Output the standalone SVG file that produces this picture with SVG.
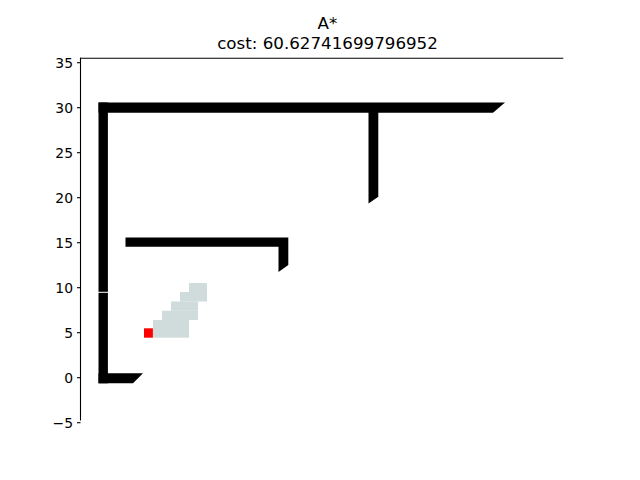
<svg xmlns="http://www.w3.org/2000/svg" width="640" height="480" viewBox="0 0 640 480">
<style>
.wall{fill:#000}
.cell{fill:#d0dcdc}
.tick{stroke:#000;stroke-width:1.1}
.lbl{font-family:"DejaVu Sans",sans-serif;font-size:13.9px;fill:#000;text-anchor:end}
.title{font-family:"DejaVu Sans",sans-serif;font-size:16.7px;fill:#000;text-anchor:middle}
</style>
<rect width="640" height="480" fill="#fff"/>
<g id="title">
<text class="title" x="327.5" y="29">A*</text>
<text class="title" x="327.5" y="49.3">cost: 60.62741699796952</text>
</g>
<g id="axes">
<line class="tick" x1="80" y1="58.3" x2="563.3" y2="58.3"/>
<line class="tick" x1="80.5" y1="57.8" x2="80.5" y2="420.5"/>
<g id="yticks">
<line class="tick" x1="77" y1="62.7" x2="80.5" y2="62.7"/>
<line class="tick" x1="77" y1="107.7" x2="80.5" y2="107.7"/>
<line class="tick" x1="77" y1="152.7" x2="80.5" y2="152.7"/>
<line class="tick" x1="77" y1="197.7" x2="80.5" y2="197.7"/>
<line class="tick" x1="77" y1="242.7" x2="80.5" y2="242.7"/>
<line class="tick" x1="77" y1="287.7" x2="80.5" y2="287.7"/>
<line class="tick" x1="77" y1="332.7" x2="80.5" y2="332.7"/>
<line class="tick" x1="77" y1="377.7" x2="80.5" y2="377.7"/>
<line class="tick" x1="77" y1="422.7" x2="80.5" y2="422.7"/>
<text class="lbl" x="73" y="68">35</text>
<text class="lbl" x="73" y="113">30</text>
<text class="lbl" x="73" y="158">25</text>
<text class="lbl" x="73" y="203">20</text>
<text class="lbl" x="73" y="248">15</text>
<text class="lbl" x="73" y="293">10</text>
<text class="lbl" x="73" y="338">5</text>
<text class="lbl" x="73" y="383">0</text>
<text class="lbl" x="73" y="428">−5</text>
</g>
</g>
<g id="walls">
<polygon class="wall" points="98.5,102.5 505,102.5 493,112.7 98.5,112.7"/>
<polygon class="wall" points="368.5,112 378.3,112 378.3,196.7 368.5,203.5"/>
<rect class="wall" x="98.5" y="102.5" width="9.4" height="189.3"/>
<rect class="wall" x="98.5" y="292.8" width="9.4" height="90.5"/>
<polygon class="wall" points="98.5,373.3 143,373.3 133,383.3 98.5,383.3"/>
<polygon class="wall" points="125.5,237.5 288.3,237.5 288.3,265 278.5,272 278.5,246.7 125.5,246.7"/>
</g>
<g id="explored">
<rect class="cell" x="189" y="283" width="18" height="9"/>
<rect class="cell" x="180" y="292" width="27" height="9.5"/>
<rect class="cell" x="171" y="301.5" width="27" height="9.3"/>
<rect class="cell" x="162" y="310.8" width="36" height="9.2"/>
<rect class="cell" x="153" y="320" width="36" height="17.7"/>
</g>
<g id="start">
<rect x="144" y="328.3" width="8.9" height="9.4" fill="#ff0000"/>
</g>
</svg>
